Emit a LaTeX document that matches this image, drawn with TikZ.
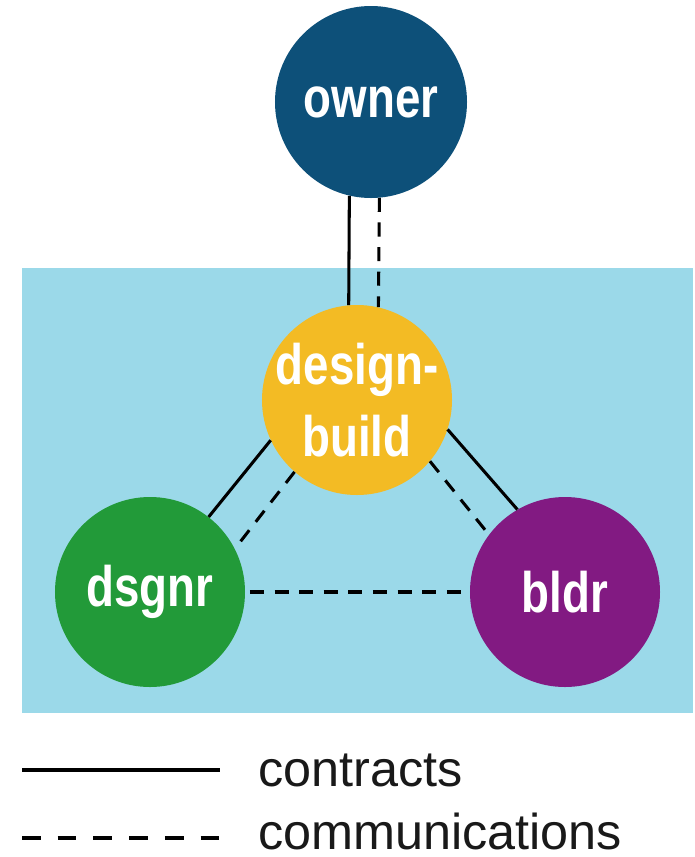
\documentclass[tikz,border=0pt]{standalone}
\usepackage{fontspec}
\usepackage{graphicx}
\setmainfont{Liberation Sans}
\usetikzlibrary{positioning}
\definecolor{ownerblue}{HTML}{0D5079}
\definecolor{dbyellow}{HTML}{F3BB24}
\definecolor{dsgnrgreen}{HTML}{229A39}
\definecolor{bldrpurple}{HTML}{821A82}
\definecolor{zoneblue}{HTML}{9BD9E9}
\newcommand{\tallname}[1]{\scalebox{1}[1.25]{#1}}

\begin{document}
\begin{tikzpicture}[x=0.03cm,y=-0.03cm,
  party/.style={circle,minimum size=5.7cm,inner sep=-30pt,text=white,align=center,
    font=\bfseries\fontsize{39}{61}\selectfont},
  contract/.style={line width=2.6pt},
  comm/.style={line width=2.6pt,dash pattern=on 12pt off 9pt},
  legtext/.style={anchor=base west,inner sep=0pt,text=black!90,font=\fontsize{43}{50}\selectfont}]
  \useasboundingbox (0,0) rectangle (695,857);
  \fill[zoneblue] (22,268) rectangle (693,713);
  \node[party,fill=ownerblue,minimum size=5.76cm] (owner) at (371,102) {\tallname{owner}};
  \node[party,fill=dbyellow] (db) at (357,400) {\tallname{design-}\\\tallname{build}};
  \node[party,fill=dsgnrgreen] (dsgnr) at (150,592) {\tallname{dsgnr}};
  \node[party,fill=bldrpurple] (bldr) at (565,592) {\tallname{bldr}};
  \draw[contract] (owner.257) -- (db.95);
  \draw[comm] (owner.275) -- (db.77);
  \draw[contract] (db.205) -- (dsgnr.52);
  \draw[comm] (db.229) -- (dsgnr.27);
  \draw[contract] (db.342) -- (bldr.120);
  \draw[comm] (db.320) -- (bldr.143);
  \draw[comm] ([xshift=4pt]dsgnr.east) -- (bldr.west);
  \node[legtext] (contracts) at (258,786) {contracts};
  \node[legtext] (comms) at (258,849) {communications};
  \coordinate (ca) at (22,770);
  \coordinate (cb) at (220,770);
  \coordinate (ma) at (22,838);
  \coordinate (mb) at (220,838);
  \draw[contract,line width=3.4pt] (ca) -- (cb);
  \draw[comm,line width=3.4pt,dash pattern=on 16pt off 14.5pt] (ma) -- (mb);
\end{tikzpicture}
\end{document}
